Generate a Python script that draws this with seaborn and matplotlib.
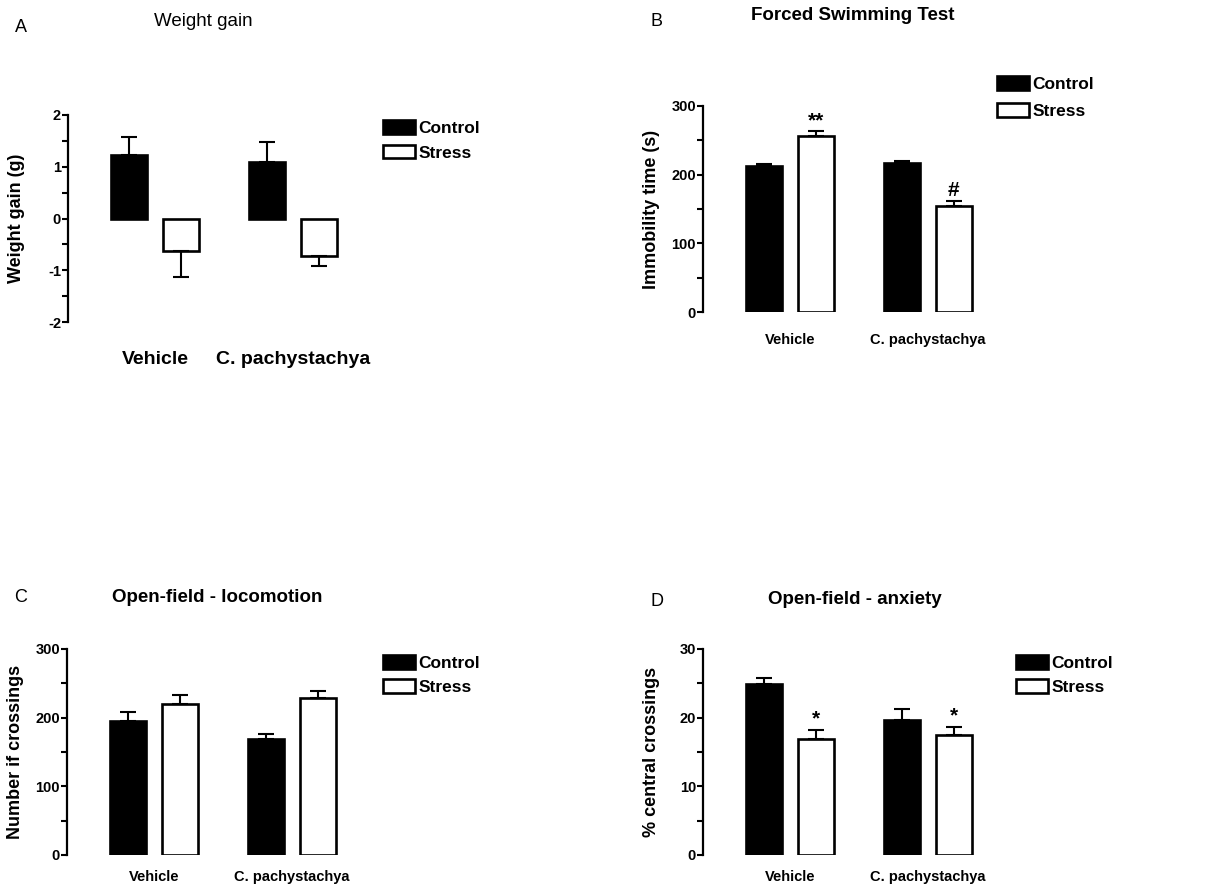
import pandas as pd
import seaborn as sns
import matplotlib
matplotlib.use("Agg")
import matplotlib.pyplot as plt
from matplotlib.patches import Patch
from matplotlib.ticker import MultipleLocator

# ---- data ----
groups = ["Vehicle", "C. pachystachya"]
conditions = ["Control", "Stress"]

weight_control = [1.22, 1.09]
weight_control_err = [0.35, 0.39]
weight_stress = [-0.62, -0.73]
weight_stress_err = [0.52, 0.18]

fst_control = [212, 217]
fst_control_err = [3, 3]
fst_stress = [256, 155]
fst_stress_err = [7, 6]
fst_stress_marks = ["**", "#"]

loco_control = [195, 169]
loco_control_err = [13, 7]
loco_stress = [220, 228]
loco_stress_err = [13, 11]

anx_control = [24.9, 19.7]
anx_control_err = [0.9, 1.5]
anx_stress = [16.9, 17.5]
anx_stress_err = [1.3, 1.2]
anx_stress_marks = ["*", "*"]

W, H = 1207, 894


def fig_rect(left, top, bottom, width=294):
    return [left / W, 1 - bottom / H, width / W, (bottom - top) / H]


def draw_panel(fig, rect, ctrl, ctrl_err, stress, stress_err, ylim, major, ylabel,
               xfont, xpad, stress_marks=None, mark_size=14):
    ax = fig.add_axes(rect)
    df = pd.DataFrame({
        "group": groups * 2,
        "condition": [conditions[0]] * 2 + [conditions[1]] * 2,
        "value": ctrl + stress,
    })
    sns.barplot(data=df, x="group", y="value", hue="condition", order=groups,
                hue_order=conditions, palette={"Control": "black", "Stress": "white"},
                edgecolor="black", linewidth=1.9, width=0.75, gap=0.3,
                errorbar=None, legend=False, ax=ax)

    # bars sorted left to right: ctrl-V, stress-V, ctrl-C, stress-C
    bars = sorted(ax.patches, key=lambda p: p.get_x())
    vals = [ctrl[0], stress[0], ctrl[1], stress[1]]
    errs = [ctrl_err[0], stress_err[0], ctrl_err[1], stress_err[1]]
    sm = stress_marks or ["", ""]
    marks = ["", sm[0], "", sm[1]]
    for bar, v, e, m in zip(bars, vals, errs, marks):
        xc = bar.get_x() + bar.get_width() / 2
        yerr = [[0], [e]] if v >= 0 else [[e], [0]]
        ax.errorbar([xc], [v], yerr=yerr, fmt="none", ecolor="black",
                    elinewidth=1.5, capsize=6, capthick=1.5, zorder=1)
        if m:
            ax.annotate(m, (xc, v + e), xytext=(0, 1), textcoords="offset points",
                        ha="center", va="bottom", fontsize=mark_size, fontweight="bold")

    ax.set_xlim(-0.63, 1.5)
    ax.set_ylim(*ylim)
    ax.yaxis.set_major_locator(MultipleLocator(major))
    ax.yaxis.set_minor_locator(MultipleLocator(major / 2))
    for s in ["top", "right", "bottom"]:
        ax.spines[s].set_visible(False)
    ax.spines["left"].set_linewidth(1.6)
    ax.spines["left"].set_color("black")
    ax.tick_params(axis="y", which="both", direction="out", length=4, width=1.5,
                   pad=1, labelsize=10.5, colors="black", left=True)
    for lab in ax.get_yticklabels():
        lab.set_fontweight("bold")
    ax.tick_params(axis="x", length=0, pad=xpad, labelsize=xfont, colors="black")
    for lab in ax.get_xticklabels():
        lab.set_fontweight("bold")
    ax.set_xlabel("")
    ax.set_ylabel(ylabel, fontsize=13, fontweight="bold", color="black")
    ax.yaxis.set_label_coords(-0.145, 0.5)
    ax.set_facecolor("white")
    return ax


def add_legend(fig, ax, x_px, y_px, spacing):
    handles = [Patch(facecolor="black", edgecolor="black", linewidth=1.9, label="Control"),
               Patch(facecolor="white", edgecolor="black", linewidth=1.9, label="Stress")]
    ax.legend(handles=handles, loc="upper left",
              bbox_to_anchor=(x_px / W, 1 - y_px / H), bbox_transform=fig.transFigure,
              frameon=False, borderpad=0, borderaxespad=0, handlelength=1.85,
              handleheight=0.85, handletextpad=0.2, labelspacing=spacing,
              labelcolor="black", prop={"weight": "bold", "size": 12.5})


sns.set_theme(style="white")
plt.rcParams["font.family"] = ["Liberation Sans", "DejaVu Sans"]
plt.rcParams["axes.unicode_minus"] = False
plt.rcParams["text.color"] = "black"
plt.rcParams["axes.labelcolor"] = "black"
plt.rcParams["xtick.color"] = "black"
plt.rcParams["ytick.color"] = "black"

fig = plt.figure(figsize=(W / 100, H / 100), dpi=100)
fig.patch.set_facecolor("white")

axA = draw_panel(fig, fig_rect(68, 115, 322), weight_control, weight_control_err,
                 weight_stress, weight_stress_err, (-2, 2), 1, "Weight gain (g)",
                 xfont=14, xpad=21)
add_legend(fig, axA, 383, 120, 0.5)

axB = draw_panel(fig, fig_rect(703, 106, 312), fst_control, fst_control_err,
                 fst_stress, fst_stress_err, (0, 300), 100, "Immobility time (s)",
                 xfont=10.5, xpad=15, stress_marks=fst_stress_marks, mark_size=15)
add_legend(fig, axB, 997, 76, 0.65)

axC = draw_panel(fig, fig_rect(67, 649, 855), loco_control, loco_control_err,
                 loco_stress, loco_stress_err, (0, 300), 100, "Number if crossings",
                 xfont=10.5, xpad=11)
add_legend(fig, axC, 383, 655, 0.45)

axD = draw_panel(fig, fig_rect(703, 649, 855), anx_control, anx_control_err,
                 anx_stress, anx_stress_err, (0, 30), 10, "% central crossings",
                 xfont=10.5, xpad=11, stress_marks=anx_stress_marks, mark_size=15)
add_legend(fig, axD, 1016, 655, 0.45)

# titles and panel letters
fig.text(203 / W, 1 - 22 / H, "Weight gain", ha="center", va="center", fontsize=13.5)
fig.text(853 / W, 1 - 15 / H, "Forced Swimming Test", ha="center", va="center",
         fontsize=13.5, fontweight="bold")
fig.text(217 / W, 1 - 597 / H, "Open-field - locomotion", ha="center", va="center",
         fontsize=13.5, fontweight="bold")
fig.text(855 / W, 1 - 600 / H, "Open-field - anxiety", ha="center", va="center",
         fontsize=13.5, fontweight="bold")
for letter, x, y in [("A", 21, 28), ("B", 657, 22), ("C", 21, 597), ("D", 657, 601)]:
    fig.text(x / W, 1 - y / H, letter, ha="center", va="center", fontsize=13)

fig.savefig("out.png", dpi=100, facecolor="white")
